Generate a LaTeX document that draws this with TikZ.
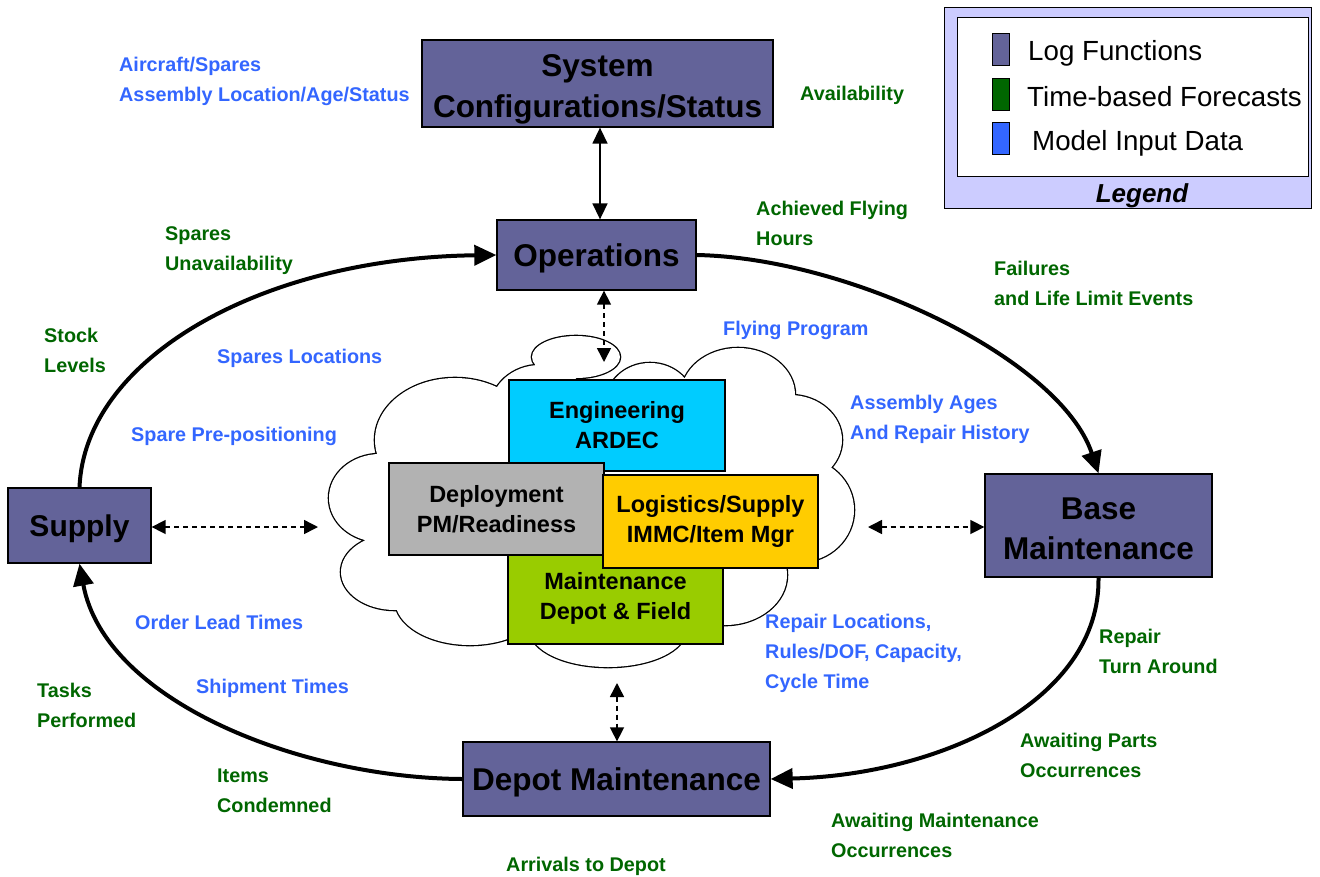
\documentclass[tikz,border=0pt]{standalone}
\usepackage{fontspec}
\setmainfont{Liberation Sans}
\usetikzlibrary{arrows.meta}
\definecolor{logfn}{RGB}{99,99,153}
\definecolor{fcast}{RGB}{0,102,0}
\definecolor{inputdata}{RGB}{51,102,255}
\definecolor{legendbg}{RGB}{204,204,255}
\definecolor{engcyan}{RGB}{0,204,255}
\definecolor{depgray}{RGB}{178,178,178}
\definecolor{logyellow}{RGB}{255,204,0}
\definecolor{mntgreen}{RGB}{153,204,0}
\begin{document}
\begin{tikzpicture}[x=1pt,y=-1pt,
  fn/.style={draw=black, line width=1.3pt, fill=logfn, inner sep=0pt, align=center,
             text depth=0pt, font=\fontsize{31.5}{41}\selectfont\bfseries},
  twoline/.style={text height=67pt},
  orgunit/.style={draw=black, line width=1.2pt, inner sep=0pt, align=center,
             minimum width=215pt, minimum height=92pt, font=\fontsize{23.5}{30}\selectfont\bfseries},
  fc/.style={text=fcast, anchor=base west, align=left, inner sep=0pt,
             font=\fontsize{19.8}{30}\selectfont\bfseries},
  inp/.style={fc, text=inputdata},
  looparc/.style={line width=4pt, -{Triangle[length=22pt,width=20pt]}},
  link/.style={line width=1.5pt, dash pattern=on 5pt off 4pt,
             {Triangle[length=14pt,width=14pt]}-{Triangle[length=14pt,width=14pt]}},
  solidlink/.style={line width=1.5pt,
             {Triangle[length=16pt,width=15pt]}-{Triangle[length=16pt,width=15pt]}},
  swatch/.style={draw=black, line width=1pt, minimum width=17pt, minimum height=32pt, inner sep=0pt},
  legtext/.style={anchor=west, inner sep=0pt, text depth=0pt, font=\fontsize{27.7}{30}\selectfont}]
\useasboundingbox (0,0) rectangle (1320,876);

% ---------- cloud of organisations: outline of a union of puffs ----------
\def\puffs{
  (576,357) ellipse [x radius=44, y radius=21]
  (455,440) ellipse [x radius=80, y radius=62]
  (380,498) ellipse [x radius=51, y radius=44]
  (395,572) ellipse [x radius=54, y radius=38]
  (470,600) ellipse [x radius=75, y radius=45]
  (608,630) ellipse [x radius=78, y radius=37]
  (725,575) ellipse [x radius=62, y radius=50]
  (800,510) ellipse [x radius=54, y radius=52]
  (790,440) ellipse [x radius=52, y radius=45]
  (738,395) ellipse [x radius=57, y radius=47]
  (650,405) ellipse [x radius=45, y radius=42]
  (540,410) ellipse [x radius=50, y radius=45]}
\draw[line width=2.6pt] \puffs;
\fill[white] \puffs (600,510) ellipse [x radius=200, y radius=110];

% ---------- organisations inside the cloud ----------
\node[orgunit, fill=engcyan, minimum width=216pt, minimum height=91pt] (eng) at (617,425.5) {Engineering\\ARDEC};
\node[orgunit, fill=mntgreen] (mnt) at (615.5,598) {Maintenance\\Depot \& Field};
\node[orgunit, fill=depgray] (dep) at (496.5,509) {Deployment\\PM/Readiness};
\node[orgunit, fill=logyellow, minimum height=93pt] (log) at (710.5,521.5) {Logistics/Supply\\IMMC/Item Mgr};

% ---------- log functions ----------
\node[fn, twoline, minimum width=351pt, minimum height=87pt] (sys) at (597.5,83.5) {System\\Configurations/Status};
\node[fn, minimum width=199pt, minimum height=70pt] (ops) at (596.5,255) {Operations};
\node[fn, minimum width=143pt, minimum height=75pt, font=\fontsize{30}{40}\selectfont\bfseries] (sup) at (79.5,525.5) {Supply};
\node[fn, twoline, minimum width=227pt, minimum height=103pt, font=\fontsize{31.5}{40}\selectfont\bfseries] (base) at (1098.5,525.5) {Base\\Maintenance};
\node[fn, minimum width=307pt, minimum height=74pt] (depot) at (616.5,779) {Depot Maintenance};

% ---------- cycle of the log functions ----------
\draw[looparc] (ops.east) .. controls +(154,3) and +(-38,-114) .. (base.north);
\draw[looparc] (base.south) .. controls +(2,123) and +(170,-4) .. (depot.east);
\draw[looparc] (depot.west) .. controls +(-163,-1) and +(25,137) .. (sup.south);
\draw[looparc] (sup.north) .. controls +(5,-128) and +(-237,3) .. (ops.west);

% ---------- links to the cloud ----------
\coordinate (cloudTop) at (604,362);
\coordinate (cloudLeft) at (318,527);
\coordinate (cloudRight) at (868,527);
\coordinate (cloudBottom) at (617,683);
\draw[solidlink] (sys.south -| 600,0) -- (ops.north -| 600,0);
\draw[link] (ops.south -| cloudTop) -- (cloudTop);
\draw[link] (sup.east |- cloudLeft) -- (cloudLeft);
\draw[link] (cloudRight) -- (base.west |- cloudRight);
\draw[link] (cloudBottom) -- (depot.north -| cloudBottom);

% ---------- time-based forecasts (anchored at the baseline of the last line) ----------
\node[fc] (availability) at (800,100) {Availability};
\node[fc] (achieved) at (756,245) {Achieved Flying\\Hours};
\node[fc] (unavail) at (165,270) {Spares\\Unavailability};
\node[fc] (failures) at (994,305) {Failures\\and Life Limit Events};
\node[fc] (stock) at (44,372) {Stock\\Levels};
\node[fc] (repairta) at (1099,673) {Repair\\Turn Around};
\node[fc] (tasks) at (37,727) {Tasks\\Performed};
\node[fc] (awparts) at (1020,777) {Awaiting Parts\\Occurrences};
\node[fc] (condemned) at (217,812) {Items\\Condemned};
\node[fc] (awmaint) at (831,857) {Awaiting Maintenance\\Occurrences};
\node[fc] (arrivals) at (506,871) {Arrivals to Depot};

% ---------- model input data ----------
\node[inp] (aircraft) at (119,101) {Aircraft/Spares\\Assembly Location/Age/Status};
\node[inp] (flying) at (723,335) {Flying Program};
\node[inp] (spareloc) at (217,363) {Spares Locations};
\node[inp] (ages) at (850,439) {Assembly Ages\\And Repair History};
\node[inp] (prepos) at (131,441) {Spare Pre-positioning};
\node[inp] (leadtimes) at (135,629) {Order Lead Times};
\node[inp] (repairloc) at (765,688) {Repair Locations,\\Rules/DOF, Capacity,\\Cycle Time};
\node[inp] (shipment) at (196,693) {Shipment Times};

% ---------- legend ----------
\node[draw=black, line width=1pt, fill=legendbg, minimum width=367pt, minimum height=201pt, inner sep=0pt] (legend) at (1127.5,107.5) {};
\node[draw=black, line width=1pt, fill=white, minimum width=351pt, minimum height=159pt, inner sep=0pt] (legendin) at (1132.5,96.5) {};
\node[swatch, fill=logfn] (swfn) at (1000.5,49) {};
\node[swatch, fill=fcast] (swfc) at (1000.5,94) {};
\node[swatch, fill=inputdata] (swin) at (1000.5,138) {};
\node[legtext] (ltfn) at (1028,50) {Log Functions};
\node[legtext] (ltfc) at (1027,96) {Time-based Forecasts};
\node[legtext] (ltin) at (1032,140) {Model Input Data};
\node[inner sep=0pt, text depth=0pt, font=\fontsize{26}{30}\selectfont\bfseries\itshape] (legtitle) at (1142,193) {Legend};
\end{tikzpicture}
\end{document}
